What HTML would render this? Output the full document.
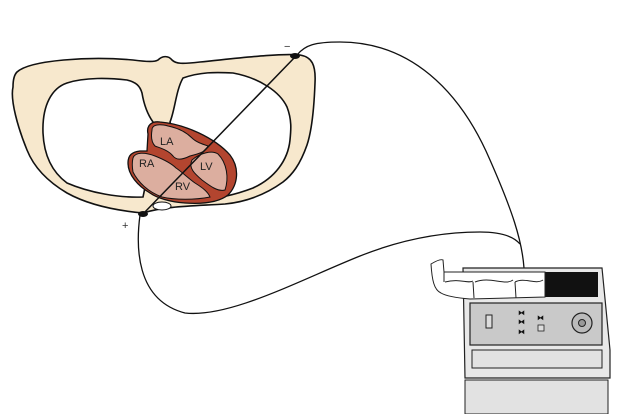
<!DOCTYPE html>
<html><head><style>html,body{margin:0;padding:0;background:#fff;width:631px;height:414px;overflow:hidden}</style></head>
<body>
<svg width="631" height="414" viewBox="0 0 631 414" xmlns="http://www.w3.org/2000/svg" font-family="Liberation Sans, sans-serif">
<!-- thorax -->
<path d="M17,72 C30,60 90,56 133,60 C148,62 155,62 158,60 C162,56 168,55 172,60 C176,64 182,64 200,62 C240,58 280,53 300,55 C312,57 316,65 315,83 C314,110 312,130 307,145 C300,165 292,175 283,182 C265,195 245,202 225,204 C195,206 165,206 143,213 C110,210 85,203 67,193 C45,180 33,165 27,150 C18,128 10,100 13,87 C13,80 14,75 17,72 Z" fill="#f7e8cd" stroke="#111" stroke-width="1.6"/>
<path d="M43,133 C42,105 52,88 67,83 C85,77 110,78 127,80 C136,82 140,86 142,93 C144,105 148,115 153,122 C150,150 148,175 143,197 C120,198 90,193 67,183 C52,172 44,155 43,133 Z" fill="#fff" stroke="#111" stroke-width="1.6"/>
<path d="M170,122 C175,110 176,90 183,78 C200,72 215,72 233,73 C260,78 280,92 287,107 C292,120 291,130 290,140 C288,160 275,178 253,188 C235,195 215,199 200,200 C190,180 178,150 170,122 Z" fill="#fff" stroke="#111" stroke-width="1.6"/>
<!-- heart -->
<path d="M148,134 C146,125 152,121 160,122 C185,124 215,138 230,155 C240,168 238,185 228,195 C218,203 200,204 185,203 C170,202 157,198 150,193 C138,186 128,175 128,163 C128,155 132,152 140,151 L147,151 Z" fill="#b3452f" stroke="#111" stroke-width="1.3"/>
<path d="M152,130 C152,124 160,124 168,126 C178,128 186,132 192,138 C196,142 202,144 208,146 C206,152 198,154 190,156 C182,160 176,160 173,156 C168,150 160,148 155,146 C151,142 151,136 152,130 Z" fill="#dcae9f" stroke="#111" stroke-width="1"/>
<path d="M133,158 C135,152 145,152 155,156 C165,160 172,164 176,168 C182,172 188,178 195,183 C203,188 208,192 210,197 C195,200 175,200 162,197 C148,192 138,182 133,172 C132,166 132,162 133,158 Z" fill="#dcae9f" stroke="#111" stroke-width="1"/>
<path d="M192,160 C200,153 212,150 218,154 C227,163 229,178 225,190 C218,192 210,186 202,180 C195,174 188,168 192,160 Z" fill="#dcae9f" stroke="#111" stroke-width="1"/>
<text x="160" y="145" font-size="11" fill="#222">LA</text>
<text x="139" y="167" font-size="11" fill="#222">RA</text>
<text x="200" y="170" font-size="11" fill="#222">LV</text>
<text x="175" y="190" font-size="11" fill="#222">RV</text>
<ellipse cx="162" cy="206" rx="9" ry="4" fill="#fff" stroke="#111" stroke-width="1"/>
<!-- lead line -->
<line x1="296" y1="56" x2="143" y2="214" stroke="#111" stroke-width="1.5"/>
<ellipse cx="295" cy="56" rx="5" ry="3" fill="#111"/>
<ellipse cx="143" cy="214" rx="5" ry="3" fill="#111"/>
<text x="284" y="50" font-size="11" fill="#333">−</text>
<text x="122" y="229" font-size="11" fill="#333">+</text>
<!-- wires -->
<path d="M297,55 C305,45 315,42 340,42 C410,42 460,90 490,160 C512,210 522,240 524,268" fill="none" stroke="#111" stroke-width="1.3"/>
<path d="M140,215 C136,245 135,300 185,313 C230,318 300,280 360,256 C400,240 440,232 480,232 C505,232 515,238 520,244" fill="none" stroke="#111" stroke-width="1.3"/>
<!-- monitor -->
<rect x="465" y="380" width="143" height="34" fill="#e2e2e2" stroke="#222" stroke-width="1"/>
<path d="M463,268 L602,268 L610,350 L610,378 L465,378 Z" fill="#e8e8e8" stroke="#222" stroke-width="1.2"/>
<rect x="472" y="350" width="130" height="18" fill="#e2e2e2" stroke="#222" stroke-width="1"/>
<rect x="470" y="303" width="132" height="42" fill="#c9c9c9" stroke="#222" stroke-width="1.2"/>
<rect x="543" y="272" width="55" height="25" fill="#111"/>
<path d="M431,264 C436,261 441,259 443,260 L444,272 L545,272 L545,297 L470,299 C458,298 446,296 441,293 C434,290 432,280 431,264 Z" fill="#fff" stroke="#222" stroke-width="1"/>
<path d="M444,272 L444,282 M445,282 C460,278 468,284 473,281 M475,282 C490,276 505,286 513,280 M515,282 C525,277 535,285 543,280" fill="none" stroke="#222" stroke-width="1"/>
<line x1="473" y1="282" x2="474" y2="298" stroke="#222"/><line x1="515" y1="282" x2="516" y2="298" stroke="#222"/>
<rect x="486" y="315" width="6" height="13" fill="#ddd" stroke="#222"/>
<text x="518" y="315" font-size="7" fill="#111">⧓</text>
<text x="518" y="324" font-size="7" fill="#111">⧓</text>
<text x="518" y="334" font-size="7" fill="#111">⧓</text>
<text x="537" y="320" font-size="7" fill="#111">⧓</text>
<rect x="538" y="325" width="6" height="6" fill="#ddd" stroke="#222" stroke-width="0.8"/>
<circle cx="582" cy="323" r="10" fill="#bbb" stroke="#222" stroke-width="1.2"/>
<circle cx="582" cy="323" r="3.5" fill="#999" stroke="#222"/>
</svg>
</body></html>
